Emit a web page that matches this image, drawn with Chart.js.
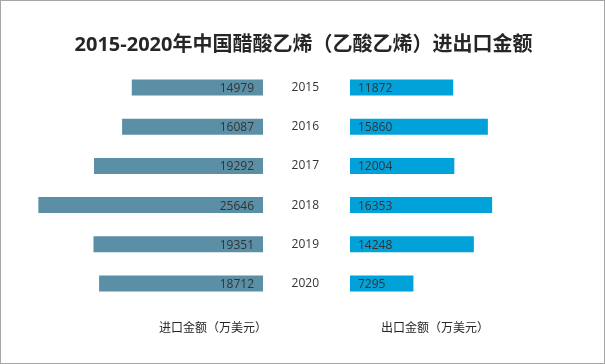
<!DOCTYPE html>
<html>
<head>
<meta charset="utf-8">
<script src="https://cdn.jsdelivr.net/npm/chart.js@4.4.0/dist/chart.umd.min.js"></script>
<style>
  html, body { margin: 0; padding: 0; background: #fff; }
  #frame {
    position: relative; width: 605px; height: 364px;
    box-sizing: border-box; border: 1px solid #a6a6a6; overflow: hidden;
    font-family: "Open Sans", "Noto Sans CJK SC", sans-serif;
  }
  #title {
    position: absolute; left: 0; top: 28px; width: 605px; text-align: center;
    font-size: 20px; font-weight: bold; color: #262626; line-height: 30px;
  }
  .axisName {
    position: absolute; top: 317px; font-size: 12px; color: #262626;
    font-family: "Noto Sans CJK SC", sans-serif; line-height: 18px;
    transform: translateX(-50%); white-space: nowrap;
  }
  #leftBox  { position: absolute; left: 0;    top: 0; width: 262px; height: 364px; }
  #rightBox { position: absolute; left: 280px; top: 0; width: 325px; height: 364px; }
</style>
</head>
<body>
<div id="frame">
  <div id="leftBox"><canvas id="importChart"></canvas></div>
  <div id="rightBox"><canvas id="exportChart"></canvas></div>
  <div id="title">2015-2020年中国醋酸乙烯（乙酸乙烯）进出口金额</div>
  <div class="axisName" style="left:212px">进口金额（万美元）</div>
  <div class="axisName" style="left:434px">出口金额（万美元）</div>
</div>
<script>
// data
const years = ['2015', '2016', '2017', '2018', '2019', '2020'];
const importValues = [14979, 16087, 19292, 25646, 19351, 18712];
const exportValues = [11872, 15860, 12004, 16353, 14248, 7295];

const importColor = '#5b8fa6';
const exportColor = '#00a2d9';
const textColor = '#333333';
const valueFont = '12px "Open Sans", sans-serif';

// labels drawn inside bars, next to the zero line
const valueLabels = {
    id: 'valueLabels',
    afterDatasetsDraw(chart, args, opts) {
        const ctx = chart.ctx;
        const meta = chart.getDatasetMeta(0);
        const data = chart.data.datasets[0].data;
        ctx.save();
        ctx.font = valueFont;
        ctx.fillStyle = textColor;
        ctx.textBaseline = 'middle';
        meta.data.forEach((bar, i) => {
            if (opts.side === 'left') {
                ctx.textAlign = 'right';
                ctx.fillText(data[i], bar.base - 9, bar.y + 1);
            } else {
                ctx.textAlign = 'left';
                ctx.fillText(data[i], bar.base + 8, bar.y + 1);
            }
        });
        ctx.restore();
    }
};

Chart.defaults.animation = false;
Chart.defaults.responsive = true;
Chart.defaults.maintainAspectRatio = false;

new Chart(document.getElementById('importChart'), {
    type: 'bar',
    data: {
        labels: years,
        datasets: [{
            data: importValues,
            backgroundColor: importColor,
            categoryPercentage: 1,
            barPercentage: 0.41
        }]
    },
    options: {
        indexAxis: 'y',
        layout: { padding: { left: 36, right: 0, top: 67, bottom: 62 } },
        plugins: {
            legend: { display: false },
            tooltip: { enabled: false },
            valueLabels: { side: 'left' }
        },
        scales: {
            x: { display: false, reverse: true, min: 0, max: 25800 },
            y: { display: false }
        }
    },
    plugins: [valueLabels]
});

new Chart(document.getElementById('exportChart'), {
    type: 'bar',
    data: {
        labels: years,
        datasets: [{
            data: exportValues,
            backgroundColor: exportColor,
            categoryPercentage: 1,
            barPercentage: 0.41
        }]
    },
    options: {
        indexAxis: 'y',
        layout: { padding: { left: 0, right: 30, top: 67, bottom: 62 } },
        plugins: {
            legend: { display: false },
            tooltip: { enabled: false },
            valueLabels: { side: 'right' }
        },
        scales: {
            x: { display: false, min: 0, max: 26000 },
            y: {
                display: true,
                afterFit(scale) { scale.width = 69; },
                grid: { display: false, drawTicks: false },
                border: { display: false },
                ticks: {
                    padding: 31,
                    color: textColor,
                    font: { family: '"Open Sans", sans-serif', size: 12 }
                }
            }
        }
    },
    plugins: [valueLabels]
});
</script>
</body>
</html>
